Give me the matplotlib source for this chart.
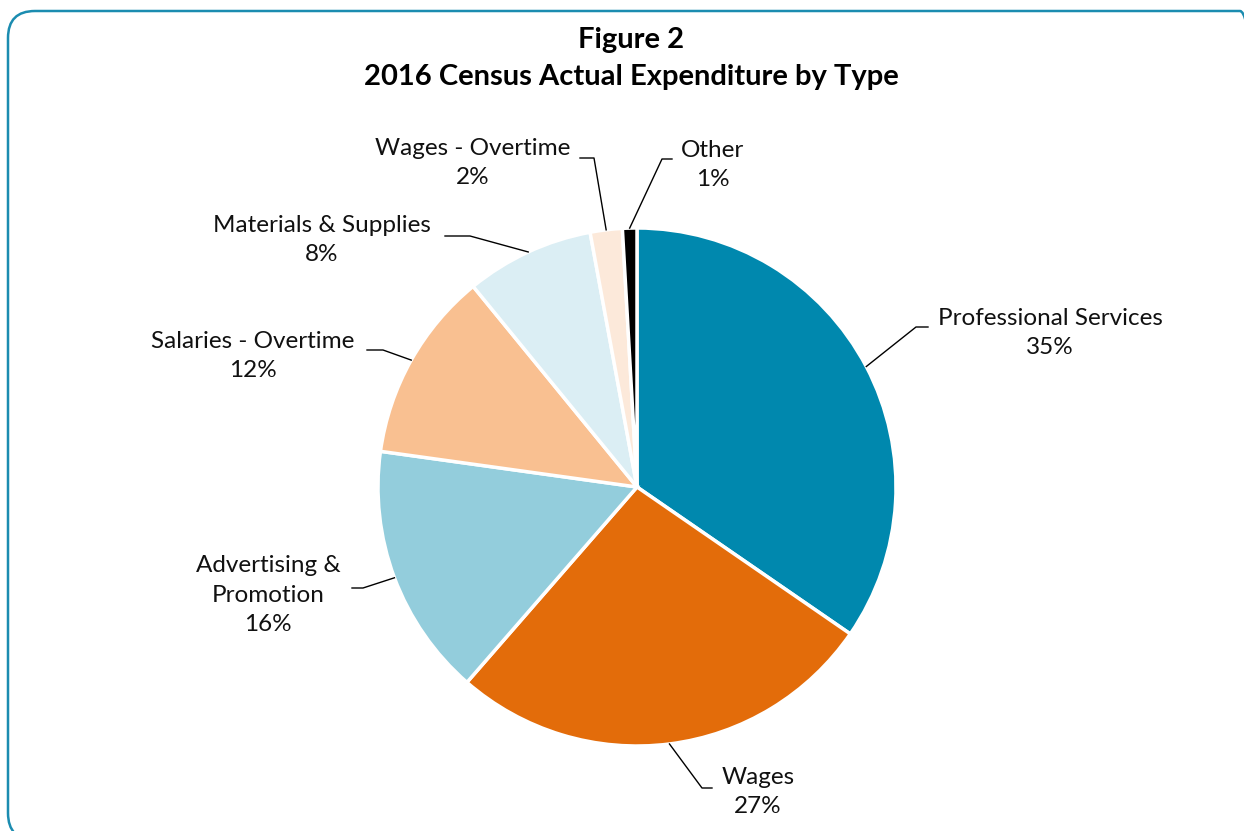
import matplotlib
matplotlib.use('Agg')
import matplotlib.pyplot as plt
from matplotlib.patches import FancyBboxPatch
from matplotlib.transforms import IdentityTransform
import numpy as np

plt.rcParams['font.family'] = ['Lato', 'DejaVu Sans']

categories = ['Professional Services', 'Wages', 'Advertising &\nPromotion',
              'Salaries - Overtime', 'Materials & Supplies', 'Wages - Overtime', 'Other']
values = [34.6, 26.8, 15.8, 11.9, 8.0, 2.0, 0.9]
colors = ['#0088AE', '#E36C0A', '#93CDDC', '#F9C091', '#DBEEF4', '#FCE9DA', '#000000']

# label text centres and leader-line knee points (pixel coords, y down)
label_pos = [(1050, 333), (758, 792), (268, 595), (253, 356), (322, 240), (473, 163), (713, 165)]
knees = [((916, 327), (928, 327)), ((702, 788), (712, 788)), ((363, 588), (352, 588)),
         ((383, 350), (367, 350)), ((470, 236), (445, 236)), ((594, 158), (580, 158)),
         ((662, 159), (672, 159))]

W, H = 1244, 831
fig = plt.figure(figsize=(W / 100, H / 100), dpi=100)
ax = fig.add_axes([0, 0, 1, 1])

cx, cy, r = 637, H - 487, 259
wedges, _ = ax.pie(values, colors=colors, startangle=90, counterclock=False,
                   center=(cx, cy), radius=r,
                   wedgeprops=dict(edgecolor='white', linewidth=2.5))
ax.set_aspect('auto')
ax.set_xlim(0, W)
ax.set_ylim(0, H)
ax.axis('off')

total = sum(values)
for w, name, v, (lx, ly), (k1, k2) in zip(wedges, categories, values, label_pos, knees):
    ang = np.deg2rad((w.theta1 + w.theta2) / 2)
    sx, sy = cx + r * np.cos(ang), cy + r * np.sin(ang)
    ax.plot([sx, k1[0], k2[0]], [sy, H - k1[1], H - k2[1]], color='black', lw=1)
    pct = round(v / total * 100)
    ax.text(lx, H - ly, f'{name}\n{pct}%', ha='center', va='center',
            fontsize=17.5, linespacing=1.5, color='#111111')

ax.text(631, H - 40, 'Figure 2', ha='center', va='center', fontsize=21, fontweight='bold')
ax.text(631, H - 77, '2016 Census Actual Expenditure by Type', ha='center', va='center',
        fontsize=21, fontweight='bold')

# outer frame in pixel coordinates, running off the right and bottom edges
border = FancyBboxPatch((8, -9), 1259, 829, boxstyle='round,pad=0,rounding_size=27',
                        fill=False, edgecolor='#1B8CB0', linewidth=1.8,
                        transform=IdentityTransform(), clip_on=False)
fig.add_artist(border)

fig.savefig('out.png', dpi=100)
